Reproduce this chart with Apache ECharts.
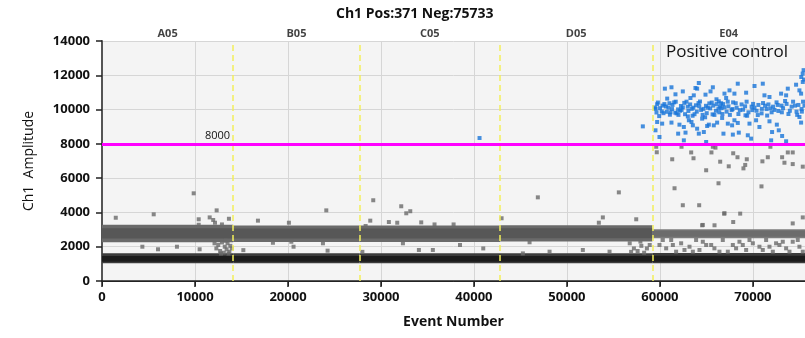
<!DOCTYPE html>
<html>
<head>
<meta charset="utf-8">
<script src="https://cdn.jsdelivr.net/npm/echarts@6/dist/echarts.min.js"></script>
<style>
  html, body { margin: 0; padding: 0; background: #fff; }
  #chart { width: 805px; height: 338px; }
</style>
</head>
<body>
<div id="chart"></div>
<script>
// wells along the event axis
const wellNames = ['A05', 'B05', 'C05', 'D05', 'E04'];
const wellEdges = [0, 14110, 27710, 42800, 59180, 75600];
const threshold = 8000;

// dense negative clouds per well [low, high] amplitude
const lowBandOuter = [[1040, 1620], [1040, 1620], [1040, 1620], [1040, 1620], [1040, 1640]];
const lowBandCore = [[1130, 1460], [1130, 1460], [1130, 1460], [1130, 1460], [1130, 1470]];
const highBandOuter = [[2260, 3280], [2280, 3240], [2280, 3240], [2300, 3250], [2500, 3020]];
const highBandCore = [[2480, 3080], [2480, 3060], [2480, 3060], [2490, 3070], [2580, 2940]];

// single negative droplets off the clouds [event, amplitude]
const strayNeg = [
  [9860, 5115], [1480, 3690], [5560, 3890], [12330, 4120], [10400, 3600], [10400, 3280],
  [11580, 3710], [11960, 3560], [12150, 3400], [12900, 3300], [13650, 3630], [16770, 3520],
  [20100, 3400], [24120, 4120], [29170, 4710], [28850, 3520], [28350, 3210], [30850, 3440],
  [31750, 3400], [32180, 4360], [32720, 3950], [33150, 4070], [34330, 3420], [35760, 3300],
  [46870, 4880], [55580, 5170], [53860, 3710], [53430, 3400], [57450, 3600], [42970, 3660],
  [37810, 3300], [59660, 7510], [59600, 7830], [61320, 7100], [62320, 7830], [63360, 7500],
  [63610, 7160], [64970, 6460], [65540, 7500], [65690, 7830], [65970, 7780], [66480, 6960],
  [67400, 6690], [67880, 7450], [68340, 7220], [68980, 6570], [69170, 6770], [69340, 7100],
  [71020, 6980], [71600, 7220], [71880, 7830], [73140, 7220], [73390, 6900], [73750, 7500],
  [74280, 7500], [74280, 6820], [75360, 6670], [61570, 5410], [66300, 5700], [70920, 5520],
  [62460, 4420], [64220, 4420], [66910, 3930], [67880, 3440], [68630, 3930], [75360, 3710],
  [64540, 3250], [65870, 3250], [66940, 3950], [64610, 3270], [74280, 3360]
];
const rainNeg = [
  [12300, 1900], [12500, 2100], [12700, 1750], [12900, 2250], [13100, 1650], [13200, 2000],
  [13400, 1850], [13500, 2200], [13700, 1700], [13800, 2050], [13950, 1900], [12800, 1600],
  [13300, 2350], [12100, 2200], [13600, 1600], [4340, 2000], [6020, 1850], [8060, 2000],
  [18380, 2230], [20360, 2290], [20600, 2000], [23760, 2200], [24260, 1770], [34080, 1810],
  [35580, 1810], [32360, 2200], [10500, 1850], [15200, 1800], [28000, 1700], [38500, 2100],
  [41000, 1900], [48130, 1710], [51710, 1810], [54580, 1710], [45980, 2260], [45260, 1610],
  [56750, 2200], [57200, 1900], [57600, 1750], [58000, 2050], [58300, 1650], [58600, 1900],
  [58900, 2100], [57900, 2300], [56900, 1700], [59950, 2100], [60670, 1905], [61210, 2390],
  [61740, 1710], [62280, 2200], [63180, 2000], [63890, 2390], [64250, 1810], [64970, 2100],
  [65860, 1905], [66760, 2390], [67300, 1710], [67840, 2100], [68550, 2290], [69270, 1810],
  [69990, 2200], [70700, 2000], [71420, 2390], [72140, 1710], [72850, 2100], [73570, 1905],
  [74280, 2290], [75000, 2000], [75360, 1710], [60310, 2390], [62640, 1810], [64610, 2290],
  [65510, 2100], [66400, 1710], [68190, 1905], [69630, 2390], [71060, 1810], [72490, 2200],
  [73930, 1710], [74820, 2390], [61390, 2100], [63540, 1710], [68910, 2100], [71780, 2000],
  [73210, 2290]
];

// positive droplets [event, amplitude]
const positives = [
  [40600, 8340], [58160, 9020],
  [60530, 11220], [61240, 11300], [61670, 10890], [60780, 10640], [62460, 11060], [63280, 10675],
  [63640, 10830], [63820, 11260], [64180, 11550], [64000, 11220], [64900, 10870], [65690, 11300],
  [65440, 11060], [66080, 10600], [66330, 10480],
  [59450, 10120], [59630, 9830], [59700, 10310], [59920, 9620], [60010, 10080], [60290, 10230],
  [60380, 9790], [60640, 10180], [60730, 9870], [61020, 10370], [61070, 9700], [61300, 10030],
  [61350, 10270], [61650, 9820], [61700, 10460], [61950, 10010], [61990, 9690], [62260, 10210],
  [62330, 9980], [62620, 10390], [62700, 9730], [62990, 10170], [63060, 9920], [63250, 10300],
  [63510, 9640], [63590, 10110], [63870, 10250], [63960, 9880], [64230, 10190], [64310, 10470],
  [64590, 9690], [64680, 10040], [64950, 10220], [65030, 9790], [65310, 10360], [65400, 10070],
  [65660, 9720], [65740, 10230], [66020, 9930], [66100, 10320], [66380, 9840], [66470, 10170],
  [59540, 10040], [59780, 10410], [60200, 9890], [60480, 10320], [60910, 10110], [61140, 9840],
  [61530, 10420], [61790, 9780], [62170, 9930], [62460, 10130], [62860, 10460], [63000, 9600],
  [63420, 10040], [63720, 9730], [64150, 10380], [64430, 9980], [64860, 9550], [65140, 10110],
  [65570, 10410], [65860, 9690], [66290, 10060], [66580, 10370],
  [59520, 8790], [59950, 8400], [60240, 9180], [61240, 9240], [61960, 8595], [62100, 9120],
  [62570, 8985], [62750, 8655], [63110, 9375], [63390, 9275], [63540, 9080], [64000, 8885],
  [64180, 8595], [64540, 9470], [64720, 8690], [65080, 9040], [65260, 9120], [65790, 9080],
  [66150, 9240], [64970, 8110], [62570, 8205], [59700, 9275],
  [68370, 11510], [70170, 11375], [71060, 11510], [73750, 11220], [74640, 11450], [75360, 11610],
  [66940, 10930], [67480, 11120], [68010, 10930], [69270, 10985], [71240, 10830], [71780, 10735],
  [73030, 10930], [73570, 10830], [75000, 11120], [75180, 10930], [67120, 10675],
  [66620, 10080], [66790, 10320], [67170, 9880], [67370, 10190], [67710, 9970], [67870, 10420],
  [68250, 10110], [68440, 9740], [68780, 10300], [68940, 9990], [69320, 10460], [69520, 9840],
  [69860, 10170], [70020, 10330], [70390, 9930], [70590, 10270], [70930, 9780], [71090, 10380],
  [71470, 10030], [71670, 10300], [72010, 9840], [72170, 10170], [72540, 10420], [72740, 9920],
  [73080, 10230], [73240, 10080], [73620, 10330], [73820, 9740], [74160, 10170], [74320, 10460],
  [74690, 9880], [74890, 10270], [75230, 10030], [75390, 10460],
  [66720, 9740], [66950, 10130], [67290, 10460], [67520, 9690], [67810, 10030], [68150, 10370],
  [68590, 9970], [69160, 10190], [69380, 9640], [69940, 9970], [70170, 10110], [70520, 9680],
  [70960, 10040], [71310, 10230], [71530, 9650], [71880, 10070], [72320, 9980], [72670, 10270],
  [73110, 9840], [73460, 10500], [73970, 9930], [74530, 10230], [74760, 9690], [75260, 9880],
  [75540, 10230],
  [66690, 9510], [67300, 9180], [67760, 9080], [68010, 9375], [68370, 9220], [69200, 9665],
  [69630, 9180], [70340, 9375], [70700, 8985], [71780, 9315], [72060, 8690], [72570, 9120],
  [72780, 8790], [73140, 8460], [71960, 8205], [66830, 8595], [67840, 8540], [68480, 8655],
  [69450, 8500], [69810, 8305], [73570, 8150], [75000, 9565], [75180, 9240],
  [75200, 11900], [75450, 12300], [75500, 11750], [75350, 12100]
];

const font = "'Open Sans', 'DejaVu Sans', sans-serif";

function bandRows(bands) {
  return bands.map((b, i) => [wellEdges[i], wellEdges[i + 1], b[0], b[1]]);
}

function bandSeries(bands, color) {
  return {
    type: 'custom',
    silent: true,
    z: 1,
    encode: { x: [0, 1], y: [2, 3] },
    data: bandRows(bands),
    renderItem: (params, api) => {
      const p0 = api.coord([api.value(0), api.value(3)]);
      const p1 = api.coord([api.value(1), api.value(2)]);
      return {
        type: 'rect',
        shape: { x: p0[0], y: p0[1], width: p1[0] - p0[0], height: p1[1] - p0[1] },
        style: { fill: color(params.dataIndex) }
      };
    }
  };
}

const chart = echarts.init(document.getElementById('chart'));
chart.setOption({
  animation: false,
  backgroundColor: '#fff',
  title: {
    text: 'Ch1 Pos:371 Neg:75733',
    left: 331,
    top: 2,
    textStyle: { fontFamily: font, fontSize: 14, fontWeight: 'bold', color: '#111' }
  },
  graphic: [{
    type: 'text',
    left: 666,
    top: 44,
    style: { text: 'Positive control', fontFamily: font, fontSize: 17, fill: '#111' }
  }],
  grid: {
    left: 102, top: 41, right: 0, bottom: 57,
    show: true, backgroundColor: '#f4f4f4', borderWidth: 0
  },
  xAxis: [{
    type: 'value',
    min: 0, max: 75600, interval: 10000,
    name: 'Event Number',
    nameLocation: 'middle',
    nameGap: 34,
    nameTextStyle: { fontFamily: font, fontSize: 14, fontWeight: 'bold', color: '#111' },
    axisLine: { onZero: false, lineStyle: { color: '#222', width: 1.5 } },
    axisTick: { show: true, length: 6, lineStyle: { color: '#222', width: 1.5 } },
    axisLabel: {
      showMaxLabel: false, formatter: v => String(v),
      fontFamily: font, fontSize: 13, fontWeight: 'bold', color: '#111', margin: 10
    },
    splitLine: { show: true, lineStyle: { color: '#d6d6d6', width: 1 } }
  }, {
    type: 'value',
    position: 'top',
    min: 0, max: 75600, interval: 10000,
    axisLine: { show: true, lineStyle: { color: '#222', width: 1 } },
    axisTick: { show: true, inside: true, length: 5, lineStyle: { color: '#222' } },
    axisLabel: { show: false },
    splitLine: { show: false }
  }],
  yAxis: {
    type: 'value',
    min: 0, max: 14000, interval: 2000,
    name: 'Ch1  Amplitude',
    nameLocation: 'middle',
    nameGap: 66,
    nameTextStyle: { fontFamily: font, fontSize: 14, color: '#111' },
    axisLine: { show: true, lineStyle: { color: '#555', width: 2 } },
    axisTick: { show: true, length: 6, lineStyle: { color: '#222', width: 1.5 } },
    axisLabel: {
      formatter: v => String(v),
      fontFamily: font, fontSize: 13, fontWeight: 'bold', color: '#111', margin: 12
    },
    splitLine: { show: true, lineStyle: { color: '#d6d6d6', width: 1 } }
  },
  series: [
    bandSeries(highBandOuter, i => i === 4 ? '#7c7c7c' : '#6a6a6a'),
    bandSeries(highBandCore, i => i === 4 ? '#6c6c6c' : '#575757'),
    bandSeries(lowBandOuter, () => '#3c3c3c'),
    bandSeries(lowBandCore, () => '#1c1c1c'),
    {
      type: 'scatter',
      symbol: 'rect',
      symbolSize: 4,
      z: 2,
      itemStyle: { color: '#6a6a6a' },
      data: rainNeg.concat(strayNeg)
    },
    {
      type: 'scatter',
      symbol: 'rect',
      symbolSize: 4,
      z: 3,
      itemStyle: { color: '#1874d8' },
      data: positives
    },
    {
      // well labels on the top edge
      type: 'scatter',
      symbolSize: 0,
      z: 4,
      silent: true,
      data: wellNames.map((n, i) => [(wellEdges[i] + wellEdges[i + 1]) / 2, 14000, n]),
      label: {
        show: true,
        position: 'top',
        distance: 2,
        formatter: p => p.value[2],
        fontFamily: font, fontSize: 11, fontWeight: 'bold', color: '#111'
      }
    },
    {
      type: 'line',
      data: [],
      z: 5,
      silent: true,
      markLine: {
        symbol: 'none',
        silent: true,
        data: wellEdges.slice(1, 5).map(x => ({
          xAxis: x,
          lineStyle: { color: '#f2ee5a', type: [6, 4], width: 1.5 },
          label: { show: false }
        })).concat([{
          yAxis: threshold,
          lineStyle: { color: '#ff00ff', type: 'solid', width: 3 },
          label: {
            show: true,
            position: 'insideStartTop',
            distance: [103, 2],
            formatter: String(threshold),
            fontFamily: font, fontSize: 11, color: '#111'
          }
        }])
      }
    }
  ]
});
</script>
</body>
</html>
